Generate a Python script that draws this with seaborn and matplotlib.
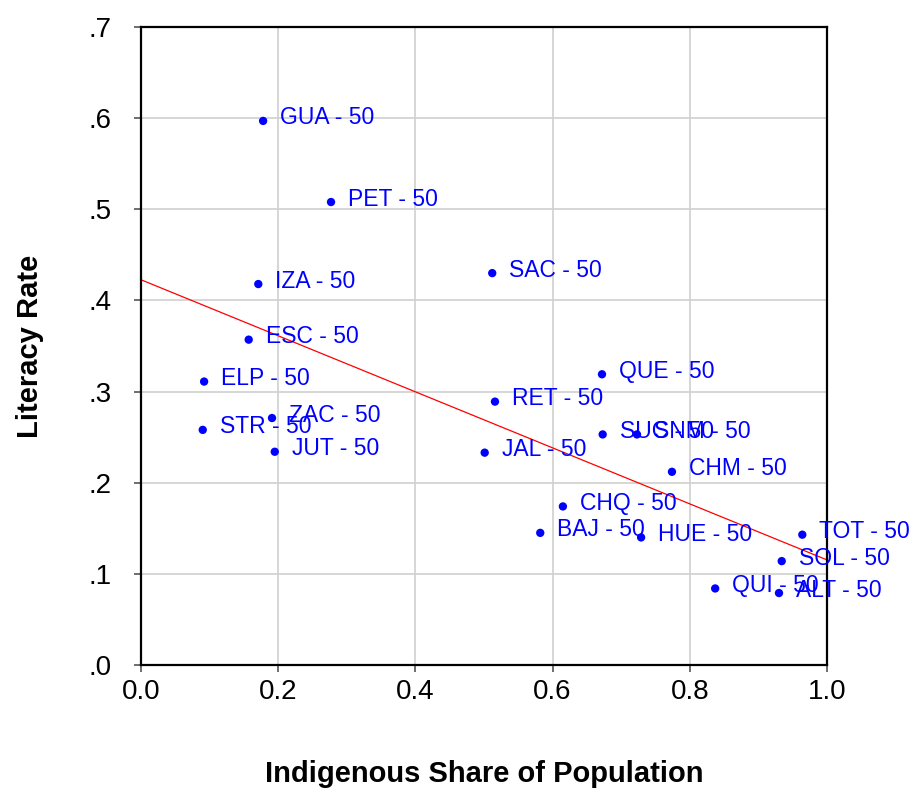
import numpy as np
import pandas as pd
import seaborn as sns
import matplotlib.pyplot as plt

# region codes and values
codes = ['GUA', 'PET', 'SAC', 'IZA', 'ESC', 'ELP', 'QUE', 'RET', 'ZAC', 'STR', 'JUT',
         'SUC', 'SNM', 'JAL', 'CHM', 'CHQ', 'BAJ', 'HUE', 'TOT', 'SOL', 'QUI', 'ALT']
indig_share = [0.178, 0.277, 0.512, 0.171, 0.157, 0.092, 0.672, 0.516, 0.191, 0.090, 0.195,
               0.673, 0.723, 0.501, 0.774, 0.615, 0.582, 0.729, 0.964, 0.934, 0.837, 0.930]
literacy = [0.597, 0.508, 0.430, 0.418, 0.357, 0.311, 0.319, 0.289, 0.271, 0.258, 0.234,
            0.253, 0.253, 0.233, 0.212, 0.174, 0.145, 0.140, 0.143, 0.114, 0.084, 0.079]
year = '50'

xticks = [0.0, 0.2, 0.4, 0.6, 0.8, 1.0]
xticklabels = ['0.0', '0.2', '0.4', '0.6', '0.8', '1.0']
yticks = [0.0, 0.1, 0.2, 0.3, 0.4, 0.5, 0.6, 0.7]
yticklabels = ['.0', '.1', '.2', '.3', '.4', '.5', '.6', '.7']

df = pd.DataFrame({'code': codes, 'x': indig_share, 'y': literacy})
df['label'] = df['code'] + ' - ' + year

sns.set_style('white')
plt.rcParams['font.family'] = ['Liberation Sans', 'DejaVu Sans']

fig = plt.figure(figsize=(9.12, 7.95), dpi=100)
ax = fig.add_axes([0.1546, 0.1635, 0.9068 - 0.1546, 0.966 - 0.1635])
ax.set_xlim(0, 1.0)
ax.set_ylim(0, 0.7)

ax.set_xticks(xticks)
ax.set_xticklabels(xticklabels)
ax.set_yticks(yticks)
ax.set_yticklabels(yticklabels)
ax.grid(True, color='#d0d0d0', linewidth=1.2)
ax.set_axisbelow(True)

sns.regplot(data=df, x='x', y='y', ax=ax, scatter=False, ci=None, truncate=False,
            line_kws={'color': 'red', 'linewidth': 0.9})
sns.scatterplot(data=df, x='x', y='y', ax=ax, color='blue', s=36, edgecolor='none', zorder=3)

# labels sit to the right of each point (some overlap, as in the original)
for _, r in df.iterrows():
    ax.annotate(r['label'], (r['x'], r['y']), xytext=(17, 3), textcoords='offset pixels',
                va='center', ha='left', color='blue', fontsize=16.5, annotation_clip=False)

for sp in ax.spines.values():
    sp.set_color('black')
    sp.set_linewidth(1.6)

ax.tick_params(axis='both', direction='out', length=5, width=1.2, color='#555555',
               labelsize=20, labelcolor='black', bottom=True, left=True)
ax.tick_params(axis='x', pad=5)
ax.tick_params(axis='y', pad=16)
ax.set_xlabel('Indigenous Share of Population', fontsize=21, fontweight='bold',
              labelpad=40, color='black')
ax.set_ylabel('Literacy Rate', fontsize=21, fontweight='bold', labelpad=32, color='black')

fig.savefig('out.png', dpi=100)
